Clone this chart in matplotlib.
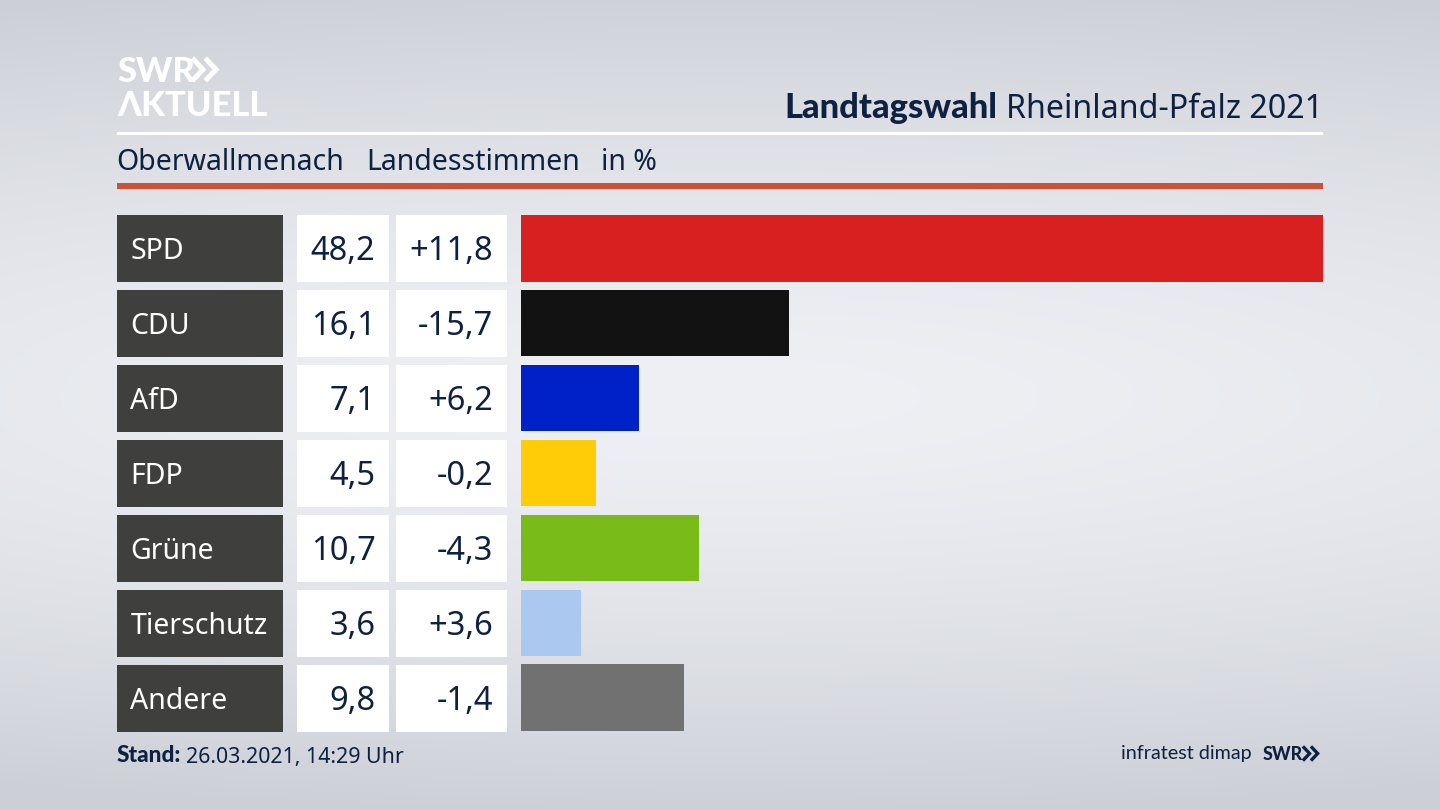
import numpy as np
import matplotlib
matplotlib.use("Agg")
import matplotlib.pyplot as plt
from matplotlib.patches import Rectangle

parties = ["SPD", "CDU", "AfD", "FDP", "Grüne", "Tierschutz", "Andere"]
shares = [48.2, 16.1, 7.1, 4.5, 10.7, 3.6, 9.8]
changes = ["+11,8", "-15,7", "+6,2", "-0,2", "-4,3", "+3,6", "-1,4"]
colors = ["#d7201f", "#121212", "#0021c8", "#ffcc07", "#79bc19", "#aac8f0", "#717172"]

NAVY = "#0e2140"
FONT = "Noto Sans"
BOLD = "Lato"
plt.rcParams["font.family"] = [FONT, "DejaVu Sans"]

fig = plt.figure(figsize=(14.4, 8.1), dpi=100)
ov = fig.add_axes([0, 0, 1, 1])
ov.set_xlim(0, 1440)
ov.set_ylim(810, 0)
ov.axis("off")

# background
yy, xx = np.mgrid[0:1:270j, 0:1:480j]
d = np.sqrt(((yy - 0.49) / 0.52) ** 2 + (0.35 * (xx - 0.5) / 0.5) ** 2)
g = np.clip(d, 0, 1) ** 1.5
top = np.array([238, 240, 244]) / 255
edge = np.array([204, 207, 214]) / 255
bg = top[None, None, :] * (1 - g[..., None]) + edge[None, None, :] * g[..., None]
ov.imshow(bg, extent=[0, 1440, 810, 0], aspect="auto", zorder=0, interpolation="bilinear")

# rules
ov.add_patch(Rectangle((117, 132), 1206, 3, color="white", lw=0, zorder=1))
ov.add_patch(Rectangle((117, 183), 1206, 6, color="#cd5138", lw=0, zorder=1))

# logo
ov.text(117, 82, "SWR", color="white", fontsize=24.8, fontweight="black", family=BOLD,
        va="baseline", ha="left", zorder=2)
ov.text(117, 116, "ΛKTUELL", color="white", fontsize=24.8, fontweight="black", family=BOLD,
        va="baseline", ha="left", zorder=2)
for x0, s, col, lw in [(194, 1.0, "white", 3.6), (1304, 0.62, NAVY, 2.4)]:
    yc = 69.5 if s == 1.0 else 753.5
    for dx in (0, 13 * s):
        ov.plot([x0 + dx, x0 + dx + 9 * s, x0 + dx],
                [yc - 9.5 * s, yc, yc + 9.5 * s],
                color=col, lw=lw, solid_joinstyle="miter", zorder=2)

# header
ov.text(1323, 110, "Rheinland-Pfalz 2021", color=NAVY, fontsize=23.2, ha="right", va="center", zorder=2)
ov.text(997, 107.5, "Landtagswahl", color=NAVY, fontsize=24.8, fontweight="black", family=BOLD,
        ha="right", va="center", zorder=2)
ov.text(116, 162.5, "Oberwallmenach", color=NAVY, fontsize=20.5, ha="left", va="center", zorder=2)
ov.text(366, 162.5, "Landesstimmen", color=NAVY, fontsize=20.5, ha="left", va="center", zorder=2)
ov.text(601, 162.5, "in %", color=NAVY, fontsize=20.5, ha="left", va="center", zorder=2)

# rows
H = 66.5
tops = [215, 290, 365, 440, 515, 590, 665]
for t, p, s, c in zip(tops, parties, shares, changes):
    ov.add_patch(Rectangle((117, t), 166, H, color="#3f3f3d", lw=0, zorder=1))
    ov.add_patch(Rectangle((297, t), 92, H, color="white", lw=0, zorder=1))
    ov.add_patch(Rectangle((396, t), 111, H, color="white", lw=0, zorder=1))
    cy = t + H / 2
    ov.text(130.5, cy + 3, p, color="white", fontsize=20.5, ha="left", va="center", zorder=2)
    ov.text(375.5, cy + 3, f"{s:.1f}".replace(".", ","), color=NAVY, fontsize=23.5, ha="right", va="center", zorder=2)
    ov.text(493, cy + 3, c, color=NAVY, fontsize=23.5, ha="right", va="center", zorder=2)

# bars
ax = fig.add_axes([521 / 1440, 1 - 731 / 810, (1323 - 521) / 1440, (731 - 215) / 810])
ax.patch.set_alpha(0)
ax.axis("off")
pos = np.arange(len(parties))
ax.barh(pos, shares, height=H / 74.9, color=colors, linewidth=0)
ax.set_xlim(0, max(shares))
ax.set_ylim(len(parties) - 1 + H / 74.9 / 2, -H / 74.9 / 2)

# footer
ov.text(117, 755, "Stand:", color=NAVY, fontsize=16.3, fontweight="black", family=BOLD, ha="left", va="center", zorder=2)
ov.text(186, 757, "26.03.2021, 14:29 Uhr", color=NAVY, fontsize=15.4, ha="left", va="center", zorder=2)
ov.text(1252, 754, "infratest dimap", color=NAVY, fontsize=14.2, family="Lato", ha="right", va="center", zorder=2)
ov.text(1263, 759.5, "SWR", color=NAVY, fontsize=12.8, fontweight="black", family=BOLD, ha="left", va="baseline", zorder=2)

fig.savefig("out.png", dpi=100)
